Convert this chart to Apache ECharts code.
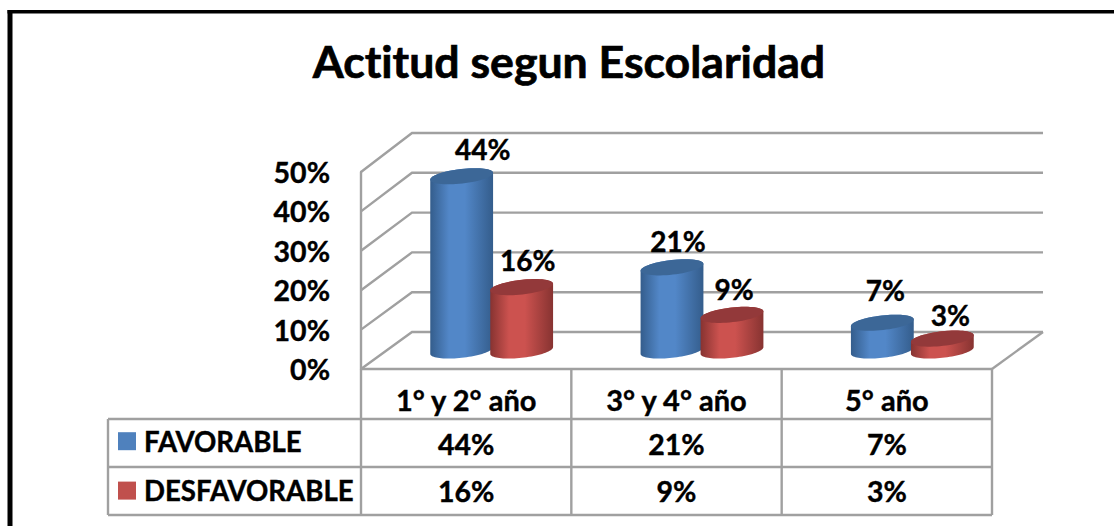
<!DOCTYPE html>
<html>
<head>
<meta charset="utf-8">
<style>
  html, body { margin: 0; padding: 0; background: #fff; overflow: hidden; }
  #chart { width: 1114px; height: 526px; }
  #chart text { font-variant-ligatures: none; }
</style>
<script src="https://cdn.jsdelivr.net/npm/echarts@6/dist/echarts.min.js"></script>
</head>
<body>
<div id="chart"></div>
<script>
  const categories = ['1° y 2° año', '3° y 4° año', '5° año'];
  const favorable = [44, 21, 7];
  const desfavorable = [16, 9, 3];
  const seriesNames = ['FAVORABLE', 'DESFAVORABLE'];
  const ticks = [0, 10, 20, 30, 40, 50];

  const FONT = 'Lato, sans-serif';
  const GRID = { left: 361, top: 172, width: 631, height: 197 };
  const Y_MAX = 50;
  // depth of the 3d box, the back wall is a touch taller than the front
  const DEPTH_X = 51;
  const depthY = (v) => -37 - 2 * v / Y_MAX;
  const GRID_COLOR = '#a0a0a0';
  const ROW_1 = 419, ROW_2 = 467, ROW_3 = 515, TABLE_LEFT = 108;
  // lato comes out lighter than the original font
  const HEAVY = { textBorderColor: '#000', textBorderWidth: 0.4 };

  // excel labels were moved by hand, so nudge each one
  const labelNudge = [
    [[21, -27], [6, -26], [3, -33]],
    [[6, -27], [2, -26], [8, -24]],
  ];

  const blue = { legend: '#4f81bd', edge: '#345d8c', mid: '#5287c8', top: '#3c6797' };
  const red = { legend: '#c0504d', edge: '#873331', mid: '#cc524f', top: '#93393a' };

  const cylinderOutline = (cx, topY, baseY) => {
    const a = 31.6, b = 7.3, tilt = -6.5 * Math.PI / 180;
    const at = (t, y) => [
      cx + a * Math.cos(t) * Math.cos(tilt) - b * Math.sin(t) * Math.sin(tilt),
      y + a * Math.cos(t) * Math.sin(tilt) + b * Math.sin(t) * Math.cos(tilt),
    ];
    // where the sides touch the ellipse
    const start = Math.atan2(-b * Math.sin(tilt), a * Math.cos(tilt));
    const body = [];
    const top = [];
    for (let i = 0; i <= 40; i++) body.push(at(start + Math.PI * i / 40, baseY));
    for (let i = 0; i <= 40; i++) body.push(at(start + Math.PI + Math.PI * i / 40, topY));
    for (let i = 0; i < 60; i++) top.push(at(Math.PI * 2 * i / 60, topY));
    return { body, top };
  };

  const cylinderSeries = (name, values, colors, shift, idx) => ({
    type: 'custom',
    name,
    itemStyle: { color: colors.legend },
    data: values.map((v, i) => [i, v]),
    encode: { x: 0, y: 1 },
    z: 3 + idx,
    renderItem: (params, api) => {
      const i = api.value(0);
      const v = api.value(1);
      const top = api.coord([i, v]);
      const base = api.coord([i, 0]);
      const cx = top[0] + shift + DEPTH_X / 2;
      const topY = top[1] + depthY(v) / 2;
      const baseY = base[1] + depthY(0) / 2;
      const shape = cylinderOutline(cx, topY, baseY);
      const nudge = labelNudge[idx][i];
      return {
        type: 'group',
        children: [
          {
            type: 'polygon',
            shape: { points: shape.body },
            style: {
              fill: new echarts.graphic.LinearGradient(0, 0, 1, 0, [
                { offset: 0, color: colors.edge },
                { offset: 0.3, color: colors.mid },
                { offset: 0.55, color: colors.mid },
                { offset: 1, color: colors.edge },
              ]),
            },
          },
          {
            type: 'polygon',
            shape: { points: shape.top },
            style: { fill: colors.top },
          },
          {
            type: 'text',
            z2: 10,
            style: {
              text: v + '%',
              x: cx + nudge[0],
              y: topY + nudge[1],
              align: 'center',
              verticalAlign: 'middle',
              font: 'bold 28px ' + FONT,
              fill: '#000',
              stroke: '#000',
              lineWidth: 0.4,
            },
          },
        ],
      };
    },
  });

  // back walls and floor, one item per tick
  const wallSeries = {
    type: 'custom',
    silent: true,
    data: ticks.map((t) => [0, t]),
    encode: { x: 0, y: 1 },
    z: 1,
    renderItem: (params, api) => {
      const v = api.value(1);
      const c = api.coord([0, v]);
      const p = [c[0] - api.size([1, 0])[0] / 2, c[1]];
      const right = p[0] + GRID.width;
      const backY = p[1] + depthY(v);
      const style = { stroke: GRID_COLOR, lineWidth: 2.4, fill: null };
      const children = [{
        type: 'polyline',
        shape: { points: [p, [p[0] + DEPTH_X, backY], [right + DEPTH_X, backY]] },
        style,
      }];
      if (v === 0) {
        children.push({
          type: 'polyline',
          shape: { points: [[right + DEPTH_X, backY], [right, p[1]]] },
          style,
        });
      }
      return { type: 'group', children };
    },
  };

  // data table under the plot
  const tableSeries = {
    type: 'custom',
    silent: true,
    data: categories.map((c, i) => [i, 0]),
    encode: { x: 0, y: 1 },
    z: 2,
    renderItem: (params, api) => {
      const i = api.value(0);
      const p = api.coord([i, 0]);
      const band = api.size([1, 0])[0];
      const style = { stroke: GRID_COLOR, lineWidth: 2.4, fill: null };
      const line = (x1, y1, x2, y2) => ({ type: 'line', shape: { x1, y1, x2, y2 }, style });
      const cell = (text, y) => ({
        type: 'text',
        style: {
          text, x: p[0], y, align: 'center', verticalAlign: 'middle',
          font: 'bold 28.5px ' + FONT, fill: '#000', stroke: '#000', lineWidth: 0.4,
        },
      });
      const children = [
        line(p[0] + band / 2, p[1], p[0] + band / 2, ROW_3),
        cell(favorable[i] + '%', ROW_1 + 25),
        cell(desfavorable[i] + '%', ROW_2 + 24),
      ];
      if (i === 0) {
        const left = p[0] - band / 2;
        const right = left + band * categories.length;
        children.push(
          line(left, p[1], right, p[1]),
          line(left, p[1], left, ROW_3),
          line(TABLE_LEFT, ROW_1, TABLE_LEFT, ROW_3),
          line(TABLE_LEFT, ROW_1, right, ROW_1),
          line(TABLE_LEFT, ROW_2, right, ROW_2),
          line(TABLE_LEFT, ROW_3, right, ROW_3)
        );
      }
      return { type: 'group', children };
    },
  };

  const chart = echarts.init(document.getElementById('chart'), null, { renderer: 'svg' });
  chart.setOption({
    animation: false,
    backgroundColor: '#fff',
    title: {
      text: 'Actitud segun Escolaridad',
      left: 564,
      textAlign: 'center',
      top: 33,
      textStyle: { fontFamily: FONT, fontWeight: 'bold', fontSize: 44.6, color: '#000', ...HEAVY, textBorderWidth: 0.7 },
    },
    legend: {
      data: seriesNames,
      orient: 'vertical',
      left: 118,
      top: 427,
      padding: 0,
      itemWidth: 18,
      itemHeight: 18,
      itemGap: 21,
      icon: 'rect',
      textStyle: { fontFamily: FONT, fontWeight: 'bold', fontSize: 27.6, color: '#000', padding: [0, 0, 4, 3], ...HEAVY },
    },
    grid: GRID,
    xAxis: {
      type: 'category',
      data: categories,
      axisLine: { show: false },
      axisTick: { show: false },
      axisLabel: { margin: 16, fontFamily: FONT, fontWeight: 'bold', fontSize: 29, color: '#000', ...HEAVY },
    },
    yAxis: {
      type: 'value',
      min: 0,
      max: Y_MAX,
      interval: 10,
      axisLine: { show: true, lineStyle: { color: GRID_COLOR, width: 2.4 } },
      axisTick: { show: false },
      splitLine: { show: false },
      axisLabel: {
        margin: 31,
        padding: [3, 0, 0, 0],
        fontFamily: FONT,
        fontWeight: 'bold',
        fontSize: 28.5,
        color: '#000',
        formatter: '{value}%',
        ...HEAVY,
      },
    },
    graphic: [
      { type: 'rect', silent: true, shape: { x: 7.5, y: 10, width: 5, height: 516 }, style: { fill: '#000' } },
      { type: 'rect', silent: true, shape: { x: 7.5, y: 10, width: 1106.5, height: 3.5 }, style: { fill: '#000' } },
    ],
    series: [
      wallSeries,
      tableSeries,
      cylinderSeries(seriesNames[0], favorable, blue, -30, 0),
      cylinderSeries(seriesNames[1], desfavorable, red, 30, 1),
    ],
  });
</script>
</body>
</html>
